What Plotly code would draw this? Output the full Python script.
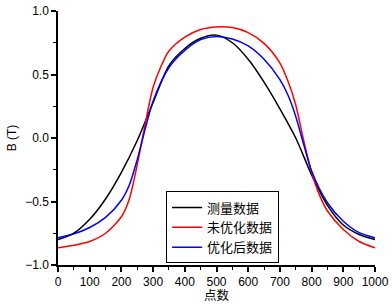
import plotly.graph_objects as go

# measured data (black)
x_meas = [0, 50, 100, 150, 200, 250, 300, 350, 400, 450, 500, 550, 600, 650, 700, 750, 800, 850, 900, 950, 1000]
b_meas = [-0.80, -0.75, -0.64, -0.48, -0.27, -0.02, 0.28, 0.57, 0.705, 0.785, 0.81, 0.75, 0.62, 0.44, 0.23, 0.00, -0.29, -0.53, -0.685, -0.76, -0.80]

# unoptimized data (red)
x_unopt = [0, 50, 100, 150, 200, 225, 250, 275, 300, 325, 350, 400, 450, 500, 550, 600, 650, 700, 725, 750, 775, 800, 825, 850, 900, 950, 1000]
b_unopt = [-0.865, -0.845, -0.815, -0.75, -0.62, -0.48, -0.21, 0.11, 0.40, 0.565, 0.685, 0.795, 0.855, 0.875, 0.87, 0.83, 0.745, 0.59, 0.45, 0.26, -0.02, -0.27, -0.45, -0.575, -0.72, -0.815, -0.865]

# optimized data (blue)
x_opt = [0, 50, 100, 150, 200, 225, 250, 275, 300, 350, 400, 450, 500, 550, 600, 650, 700, 725, 750, 775, 800, 850, 900, 950, 1000]
b_opt = [-0.785, -0.755, -0.705, -0.625, -0.49, -0.37, -0.17, 0.07, 0.29, 0.555, 0.69, 0.775, 0.80, 0.78, 0.725, 0.62, 0.46, 0.34, 0.17, -0.05, -0.26, -0.51, -0.655, -0.745, -0.785]

names = ["测量数据", "未优化数据", "优化后数据"]
colors = ["#000000", "#ff0000", "#0000ff"]
x_title = "点数"
y_title = "B (T)"

fig = go.Figure()
for xs, ys, nm, c in zip([x_meas, x_unopt, x_opt], [b_meas, b_unopt, b_opt], names, colors):
    fig.add_trace(go.Scatter(x=xs, y=ys, mode="lines", name=nm,
                             line=dict(color=c, width=1.5, shape="spline", smoothing=0.8)))

fig.update_layout(
    width=392, height=304,
    margin=dict(l=58, r=17, t=11, b=39, autoexpand=False),
    paper_bgcolor="white", plot_bgcolor="white",
    font=dict(family="Liberation Sans, Arial", size=12, color="black"),
    showlegend=True,
    legend=dict(x=0.341, y=0.006, xanchor="left", yanchor="bottom",
                bgcolor="white", bordercolor="black", borderwidth=1,
                font=dict(family="Noto Sans CJK SC", size=13, color="black"),
                tracegroupgap=0, itemwidth=30),
)
fig.add_annotation(text=x_title, xref="paper", yref="paper", x=0.5, y=0,
                   xanchor="center", yanchor="top", yshift=-19, showarrow=False, borderpad=0,
                   font=dict(family="Noto Sans CJK SC", size=12.5, color="black"))
fig.update_xaxes(range=[0, 1000], tickmode="linear", tick0=0, dtick=100, automargin=False,
                 showline=True, linecolor="black", linewidth=1.5, mirror=False,
                 ticks="outside", ticklen=5, tickwidth=1.5, tickcolor="black",
                 showgrid=False, zeroline=False,
                 minor=dict(dtick=50, ticks="outside", ticklen=3, tickwidth=1.2, tickcolor="black", showgrid=False))
fig.update_yaxes(range=[-1, 1], tickmode="linear", tick0=-1, dtick=0.5, tickformat=".1f", automargin=False,
                 showline=True, linecolor="black", linewidth=1.5, mirror=False,
                 ticks="outside", ticklen=5, tickwidth=1.5, tickcolor="black",
                 showgrid=False, zeroline=False,
                 minor=dict(dtick=0.25, ticks="outside", ticklen=3, tickwidth=1.2, tickcolor="black", showgrid=False),
                 title=dict(text=y_title, font=dict(family="Liberation Sans, Arial", size=12), standoff=6))

fig.write_html("out.html", config={"displayModeBar": False},
               post_script="document.body.style.margin='0';document.body.style.padding='0';")
